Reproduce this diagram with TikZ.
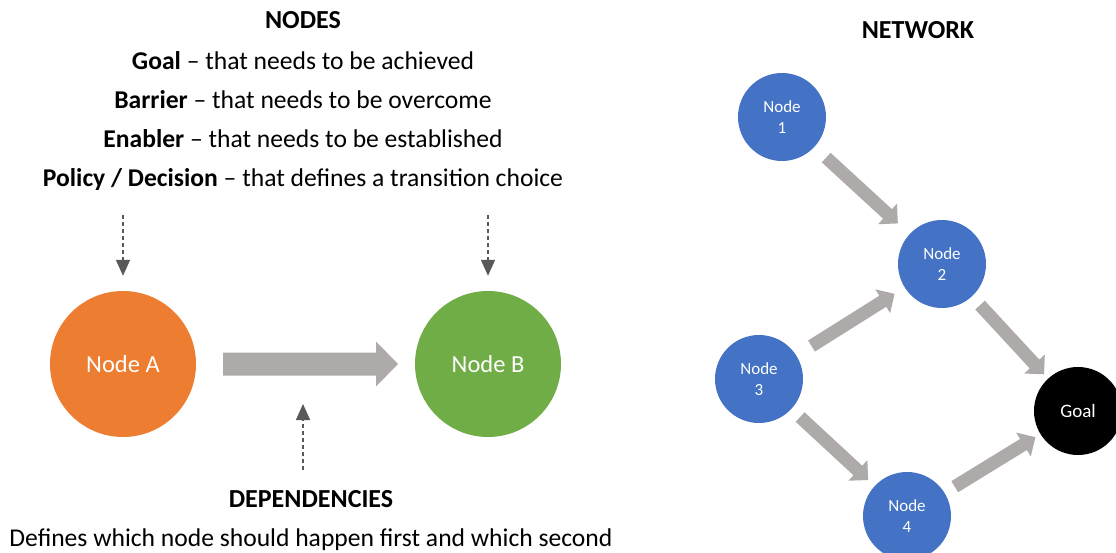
\documentclass[tikz,border=0pt]{standalone}
\usepackage{fontspec}
\setmainfont{Carlito}
\usetikzlibrary{calc,arrows.meta}
\definecolor{orangeA}{HTML}{ED7D31}
\definecolor{greenB}{HTML}{70AD47}
\definecolor{blueN}{HTML}{4472C4}
\definecolor{arrowgray}{HTML}{AEAAAA}
\definecolor{dashgray}{HTML}{595959}
\newcommand\fatarrow[7]{%
  \coordinate (fa-s) at ($(#1.center)!#3!(#2.center)$);
  \coordinate (fa-t) at ($(#2.center)!#4!(#1.center)$);
  \coordinate (fa-h) at ($(fa-t)!#7!(fa-s)$);
  \fill[arrowgray] ($(fa-s)!#5!90:(fa-t)$) -- ($(fa-h)!#5!90:(fa-t)$) -- ($(fa-h)!#6!90:(fa-t)$) -- (fa-t) -- ($(fa-h)!#6!-90:(fa-t)$) -- ($(fa-h)!#5!-90:(fa-t)$) -- ($(fa-s)!#5!-90:(fa-t)$) -- cycle;}
\begin{document}
\begin{tikzpicture}[x=1pt,y=-1pt,
  bigcirc/.style={circle,inner sep=0pt,minimum size=146pt,text=white,font=\fontsize{24.5}{29}\selectfont},
  netcirc/.style={circle,inner sep=0pt,minimum size=88pt,fill=blueN,text=white,align=center,font=\fontsize{17}{21}\selectfont},
  txt/.style={anchor=base,inner sep=0pt,font=\fontsize{25.6}{30}\selectfont},
  hdr/.style={anchor=base,inner sep=0pt,font=\bfseries\fontsize{26}{30}\selectfont},
  dep/.style={draw=dashgray,line width=1.5pt,dash pattern=on 4pt off 3pt,-{Triangle[length=16pt,width=14pt,fill=dashgray]}}
]
\useasboundingbox (0,0) rectangle (1116,553);
% left texts
\node[hdr] (nodeshdr) at (303,29) {NODES};
\node[txt] (t1) at (303,70) {\textbf{Goal} – that needs to be achieved};
\node[txt] (t2) at (303,109) {\textbf{Barrier} – that needs to be overcome};
\node[txt] (t3) at (303,148) {\textbf{Enabler} – that needs to be established};
\node[txt] (t4) at (303,187) {\textbf{Policy / Decision} – that defines a transition choice};
\node[hdr] (dephdr) at (311,507) {DEPENDENCIES};
\node[txt] (deptxt) at (311,546) {Defines which node should happen first and which second};
% big nodes
\node[bigcirc,fill=orangeA] (A) at (123,364) {Node A};
\node[bigcirc,fill=greenB] (B) at (488,364) {Node B};
\fatarrow{A}{B}{100pt}{90pt}{11.5pt}{22.5pt}{22pt}
% dashed pointers
\coordinate (pa) at (123,215);
\coordinate (pb) at (488,215);
\coordinate (pd1) at (303,470);
\coordinate (pd2) at (303,404);
\draw[dep,shorten >=15pt] (pa) -- (A.north);
\draw[dep,shorten >=15pt] (pb) -- (B.north);
\draw[dep] (pd1) -- (pd2);
% network
\node[hdr] (nethdr) at (918,39) {NETWORK};
\node[netcirc] (n1) at (782,117) {Node\\1};
\node[netcirc] (n2) at (942,264) {Node\\2};
\node[netcirc] (n3) at (759,379) {Node\\3};
\node[netcirc] (n4) at (907,516) {Node\\4};
\node[netcirc,fill=black,font=\fontsize{19}{23}\selectfont] (goal) at (1078,411) {Goal};
\fatarrow{n1}{n2}{60pt}{60pt}{6.5pt}{14pt}{14pt}
\fatarrow{n3}{n2}{62pt}{56pt}{6.5pt}{14pt}{14pt}
\fatarrow{n2}{goal}{56pt}{50pt}{6.5pt}{14pt}{14pt}
\fatarrow{n3}{n4}{56pt}{53pt}{6.5pt}{14pt}{14pt}
\fatarrow{n4}{goal}{56pt}{50pt}{6.5pt}{14pt}{14pt}
\end{tikzpicture}
\end{document}
